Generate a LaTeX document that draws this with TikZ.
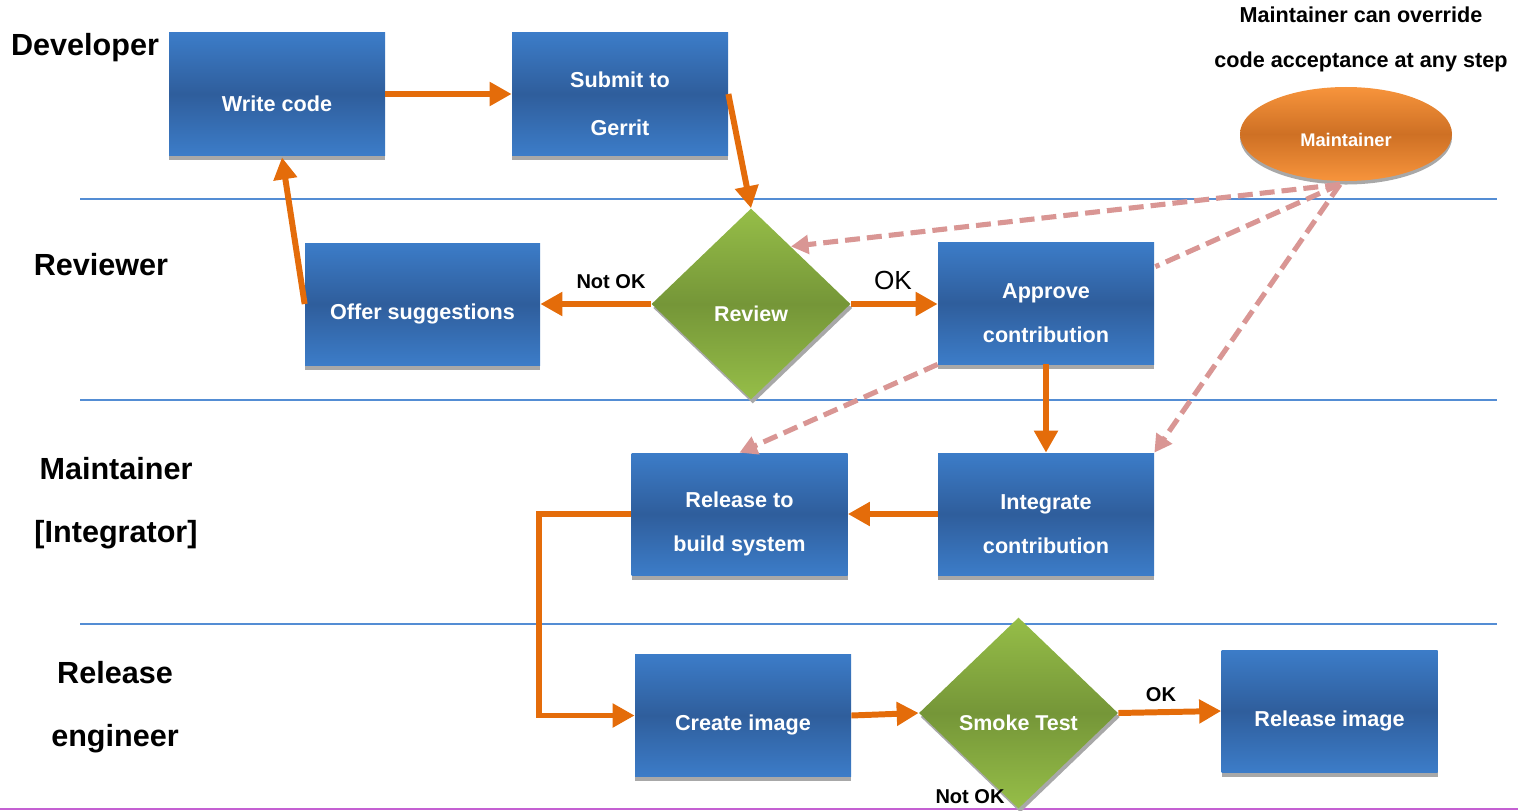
\documentclass[tikz,border=0pt]{standalone}
\usepackage{fontspec}
\setmainfont{Liberation Sans}
\usetikzlibrary{shapes.geometric,arrows.meta,calc,shadows}

\definecolor{boxlight}{RGB}{60,124,200}
\definecolor{boxdark}{RGB}{47,94,156}
\definecolor{dialight}{RGB}{150,190,72}
\definecolor{diadark}{RGB}{117,150,56}
\definecolor{elllight}{RGB}{247,148,60}
\definecolor{elldark}{RGB}{206,112,36}
\definecolor{flowcol}{RGB}{228,108,10}
\definecolor{overridecol}{RGB}{217,150,148}
\definecolor{lanecol}{RGB}{84,141,212}
\definecolor{edgecol}{RGB}{196,96,210}
\definecolor{shadowgray}{RGB}{168,168,168}

% strut that sets the label a little below the middle of its shape
\newcommand{\sinkline}{\rule{0pt}{20pt}}

\tikzset{
  stepbox/.style={rectangle, inner sep=0pt,
    minimum width={216*0.02cm}, minimum height={122*0.02cm},
    top color=boxlight, bottom color=boxlight, middle color=boxdark,
    text=white, align=center,
    font=\bfseries\fontsize{12.3}{25}\selectfont,
    drop shadow={shadow xshift=0pt, shadow yshift=-2.8pt, fill=shadowgray, opacity=1}},
  decision/.style={diamond, inner sep=0pt,
    minimum width={199*0.02cm}, minimum height={191*0.02cm},
    top color=dialight, bottom color=dialight, middle color=diadark,
    text=white, font=\bfseries\fontsize{12.2}{14}\selectfont,
    drop shadow={shadow xshift=1pt, shadow yshift=-2.3pt, fill=shadowgray, opacity=1}},
  rolebubble/.style={ellipse, inner sep=0pt,
    minimum width={212*0.02cm}, minimum height={94*0.02cm},
    top color=elllight, bottom color=elllight, middle color=elldark,
    text=white, font=\bfseries\fontsize{10.4}{12}\selectfont,
    drop shadow={shadow xshift=0pt, shadow yshift=-2pt, fill=shadowgray, opacity=1}},
  lanetitle/.style={align=center, font=\bfseries\fontsize{17.4}{36}\selectfont},
  edgetext/.style={font=\bfseries\fontsize{11.4}{13}\selectfont},
  laneline/.style={draw=lanecol, line width=1.1pt},
  flowarrow/.style={draw=flowcol, line width=3.4pt,
    -{Triangle[length=12.5pt,width=13pt]}},
  overridedash/.style={draw=overridecol, line width=2.9pt,
    dash pattern=on 8.5pt off 4pt},
  overridearrow/.style={overridedash, -{Triangle[length=10pt,width=10.5pt]}},
}

\begin{document}
\begin{tikzpicture}[x=0.02cm, y=-0.02cm]
\useasboundingbox (0,0) rectangle (1518,811);

% swim lane separators
\draw[laneline] (80,199) -- (1497,199);
\draw[laneline] (80,400) -- (1497,400);
\draw[laneline] (80,624) -- (1497,624);
\draw[draw=edgecol, line width=1.1pt] (0,809) -- (1518,809);

% lane titles
\node[lanetitle] (devlane) at (85,48) {Developer};
\node[lanetitle] (revlane) at (101,265) {Reviewer};
\node[lanetitle] (intlane) at (116,503) {Maintainer\\{}[Integrator]};
\node[lanetitle] (rellane) at (115,707) {Release\\engineer};

% note beside the maintainer
\node[align=center, font=\bfseries\fontsize{12.3}{25.5}\selectfont] (note)
  at (1361,39.5) {Maintainer can override\\code acceptance at any step};

% process steps
\node[stepbox] (write) at (277,94) {\sinkline Write code};
\node[stepbox, font=\bfseries\fontsize{12.3}{27}\selectfont] (submit) at (620,94) {\sinkline Submit to\\Gerrit};
\node[stepbox, minimum width={235*0.02cm}] (offer) at (422.5,304) {\sinkline Offer suggestions};
\node[stepbox] (approve) at (1046,303) {\sinkline Approve\\contribution};
\node[stepbox] (integrate) at (1046,514) {\sinkline Integrate\\contribution};
\node[stepbox] (release) at (739.5,514) {\sinkline Release to\\build system};
\node[stepbox] (create) at (743,715.5) {\sinkline Create image};
\node[stepbox] (publish) at (1329.5,711) {\sinkline Release image};

% decisions
\node[decision] (review) at (751,304) {\sinkline Review};
\node[decision] (smoke) at (1018.5,713) {\sinkline Smoke Test};

% maintainer role
\node[rolebubble] (maint) at (1346,134) {\rule{0pt}{14pt}Maintainer};
\coordinate (hub) at ($(maint.south)+(-6,3)$);

% main flow
\draw[flowarrow] (write.east) -- (submit.west);
\draw[flowarrow] (submit.east) -- (review.north);
\draw[flowarrow] (review.west) -- (review.west -| offer.east);
\draw[flowarrow] (review.east) -- (review.east -| approve.west);
\draw[flowarrow] (offer.west) -- ($(write.south)+(5,2)$);
\draw[flowarrow] (approve.south) -- (integrate.north);
\draw[flowarrow] (integrate.west) -- (release.east);
\draw[flowarrow] (release.west) -- ++(-92,0) |- (create.west);
\draw[flowarrow] (create.east) -- (smoke.west);
\draw[flowarrow] (smoke.east) -- (publish.west);

% branch labels
\node[edgetext] (notok1) at (611,282) {Not OK};
\node[font=\fontsize{14.9}{16}\selectfont] (ok1) at (893,280) {OK};
\node[edgetext] (ok2) at (1161,695) {OK};
\node[edgetext] (notok2) at (970,797) {Not OK};

% maintainer overrides
\draw[overridearrow] (hub) -- ($(review.north)!0.4!(review.east)$);
\draw[overridedash] (hub) -- ($(approve.north east)+(1,25)$);
\draw[overridearrow] (hub) -- (integrate.north east);
\draw[overridearrow] (approve.south west) -- (release.north);
\end{tikzpicture}
\end{document}
